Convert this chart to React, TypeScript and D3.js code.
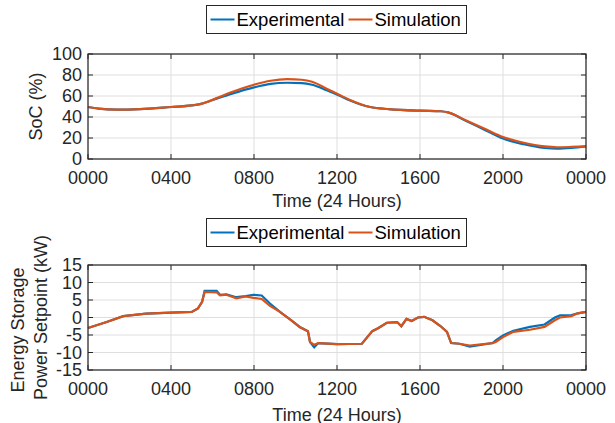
import React from "react";
import * as d3 from "d3";

// SoC panel (hours of day)
const socTime = [0, 0.5, 1.4, 2.5, 4, 5.0, 5.45, 6.2, 6.9, 8.0, 8.8, 9.6, 10.3, 10.8, 11.5, 12.1, 12.6, 13.6, 14.5, 16, 17.0, 17.35, 18.2, 19.2, 20, 21, 22, 22.6, 23.3, 24];
const socExp = [49.5, 48, 47, 47.5, 49.5, 51, 52.5, 57.5, 62, 68.2, 71.5, 72.6, 72.3, 70.7, 65.5, 60.5, 56, 49.5, 47.5, 46, 45.5, 44.4, 36.5, 27, 19.5, 14, 10.5, 9.8, 10.5, 12];
const socSim = [49.5, 48, 47, 47.5, 49.5, 51, 52.5, 58, 63.5, 70.7, 74.5, 76, 75.5, 73.6, 67, 61.2, 56.5, 49.5, 47.5, 46, 45.5, 44.4, 37, 28, 21, 15.5, 12, 11.2, 11.5, 12];

// power setpoint panel
const pTime = [0, 0.9, 1.7, 2.8, 4, 5.0, 5.3, 5.5, 5.62, 6.2, 6.36, 6.67, 7.15, 7.6, 7.97, 8.37, 8.77, 9.25, 9.8, 10.2, 10.6, 10.7, 10.9, 11.1, 12, 13.2, 13.7, 14.0, 14.4, 14.9, 15.1, 15.35, 15.6, 15.9, 16.2, 16.6, 17.0, 17.3, 17.5, 17.9, 18.4, 19.5, 19.65, 20, 20.5, 21.3, 22.0, 22.5, 22.75, 23.3, 23.6, 24];
const pExp = [-3.0, -1.3, 0.4, 1.1, 1.4, 1.6, 2.6, 4.5, 7.6, 7.6, 6.5, 6.6, 5.8, 6.1, 6.5, 6.3, 4.0, 1.6, -0.8, -2.7, -3.9, -7.0, -8.5, -7.3, -7.6, -7.5, -3.9, -3.0, -1.5, -1.3, -2.5, -0.4, -1.0, 0, 0.2, -0.8, -2.5, -4.1, -7.3, -7.5, -8.3, -7.3, -6.5, -5.1, -3.8, -2.7, -2.0, 0, 0.6, 0.7, 1.2, 1.6];
const pSim = [-3.0, -1.3, 0.4, 1.1, 1.4, 1.6, 2.6, 4.5, 7.3, 7.2, 6.3, 6.5, 5.5, 6.0, 5.6, 5.3, 3.3, 1.6, -0.8, -2.7, -3.9, -7.0, -7.8, -7.3, -7.6, -7.5, -3.9, -3.0, -1.5, -1.3, -2.5, -0.4, -1.0, 0, 0.2, -0.8, -2.5, -4.1, -7.3, -7.5, -8.0, -7.3, -7.0, -5.6, -4.1, -3.5, -2.7, -0.8, 0, 0.4, 1.2, 1.6];

const xTicks = [0, 4, 8, 12, 16, 20, 24];
const xTickLabels = ["0000", "0400", "0800", "1200", "1600", "2000", "0000"];
const socTicks = [0, 20, 40, 60, 80, 100];
const pTicks = [-15, -10, -5, 0, 5, 10, 15];
const seriesNames = ["Experimental", "Simulation"];

const BLUE = "#0072BD";
const ORANGE = "#D95319";
const AX = "#262626";
const FONT = "'Liberation Sans', Arial, sans-serif";

const left = 88;
const right = 586;

function Legend({ y }: { y: number }) {
  const x0 = 206.5;
  const cy = y + 14;
  return (
    <g>
      <rect x={x0} y={y} width={260} height={28} fill="white" stroke={AX} strokeWidth={1} />
      <line x1={x0 + 4} x2={x0 + 28} y1={cy} y2={cy} stroke={BLUE} strokeWidth={2} />
      <text x={x0 + 30} y={cy} dominantBaseline="central" fontSize={18.5} fill="#000">{seriesNames[0]}</text>
      <line x1={x0 + 142} x2={x0 + 166} y1={cy} y2={cy} stroke={ORANGE} strokeWidth={2} />
      <text x={x0 + 168} y={cy} dominantBaseline="central" fontSize={18.5} fill="#000">{seriesNames[1]}</text>
    </g>
  );
}

function Panel(props: {
  top: number;
  bottom: number;
  domain: [number, number];
  yTicks: number[];
  time: number[];
  exp: number[];
  sim: number[];
  smooth: boolean;
  titleOffset: number;
  ylabel: React.ReactNode;
}) {
  const { top, bottom, domain, yTicks, time, exp, sim, smooth } = props;
  const x = d3.scaleLinear().domain([0, 24]).range([left, right]);
  const y = d3.scaleLinear().domain(domain).range([bottom, top]);
  const line = d3
    .line<number>()
    .x((_, i) => x(time[i]))
    .y((d) => y(d))
    .curve(smooth ? d3.curveMonotoneX : d3.curveLinear);
  const tk = 5;
  return (
    <g>
      {xTicks.map((t) => (
        <line key={"gx" + t} x1={x(t)} x2={x(t)} y1={top} y2={bottom} stroke="#dedede" strokeWidth={1} />
      ))}
      {yTicks.map((t) => (
        <line key={"gy" + t} x1={left} x2={right} y1={y(t)} y2={y(t)} stroke="#dedede" strokeWidth={1} />
      ))}
      <path d={line(exp) || ""} fill="none" stroke={BLUE} strokeWidth={2.2} />
      <path d={line(sim) || ""} fill="none" stroke={ORANGE} strokeWidth={2.2} />
      <rect x={left} y={top} width={right - left} height={bottom - top} fill="none" stroke={AX} strokeWidth={1.2} />
      {xTicks.map((t) => (
        <g key={"tx" + t}>
          <line x1={x(t)} x2={x(t)} y1={bottom} y2={bottom - tk} stroke={AX} />
          <line x1={x(t)} x2={x(t)} y1={top} y2={top + tk} stroke={AX} />
        </g>
      ))}
      {yTicks.map((t) => (
        <g key={"ty" + t}>
          <line x1={left} x2={left + tk} y1={y(t)} y2={y(t)} stroke={AX} />
          <line x1={right} x2={right - tk} y1={y(t)} y2={y(t)} stroke={AX} />
          <text x={left - 6} y={y(t)} textAnchor="end" dominantBaseline="central" fontSize={18} fill={AX}>
            {t}
          </text>
        </g>
      ))}
      {xTicks.map((t, i) => (
        <text key={"lx" + i} x={x(t)} y={bottom + 25} textAnchor="middle" fontSize={18} fill={AX}>
          {xTickLabels[i]}
        </text>
      ))}
      <text x={(left + right) / 2} y={bottom + props.titleOffset} textAnchor="middle" fontSize={18} fill={AX}>
        Time (24 Hours)
      </text>
      {props.ylabel}
    </g>
  );
}

export default function App() {
  return (
    <svg
      width={615}
      height={423}
      style={{ position: "absolute", left: 0, top: 0, background: "white" }}
      fontFamily={FONT}
    >
      <rect width={615} height={423} fill="white" />
      <Legend y={5.5} />
      <Panel
        top={54}
        bottom={159}
        domain={[0, 100]}
        yTicks={socTicks}
        time={socTime}
        exp={socExp}
        sim={socSim}
        smooth={true}
        titleOffset={48}
        ylabel={
          <text transform="translate(36,106.5) rotate(-90)" textAnchor="middle" dominantBaseline="central" fontSize={18} fill={AX}>
            SoC (%)
          </text>
        }
      />
      <Legend y={218.5} />
      <Panel
        top={265}
        bottom={370}
        domain={[-15, 15]}
        yTicks={pTicks}
        time={pTime}
        exp={pExp}
        sim={pSim}
        smooth={false}
        titleOffset={51}
        ylabel={
          <g>
            <text transform="translate(18,330) rotate(-90)" textAnchor="middle" dominantBaseline="central" fontSize={18} fill={AX}>
              Energy Storage
            </text>
            <text transform="translate(41,317.5) rotate(-90)" textAnchor="middle" dominantBaseline="central" fontSize={18} fill={AX}>
              Power Setpoint (kW)
            </text>
          </g>
        }
      />
    </svg>
  );
}
